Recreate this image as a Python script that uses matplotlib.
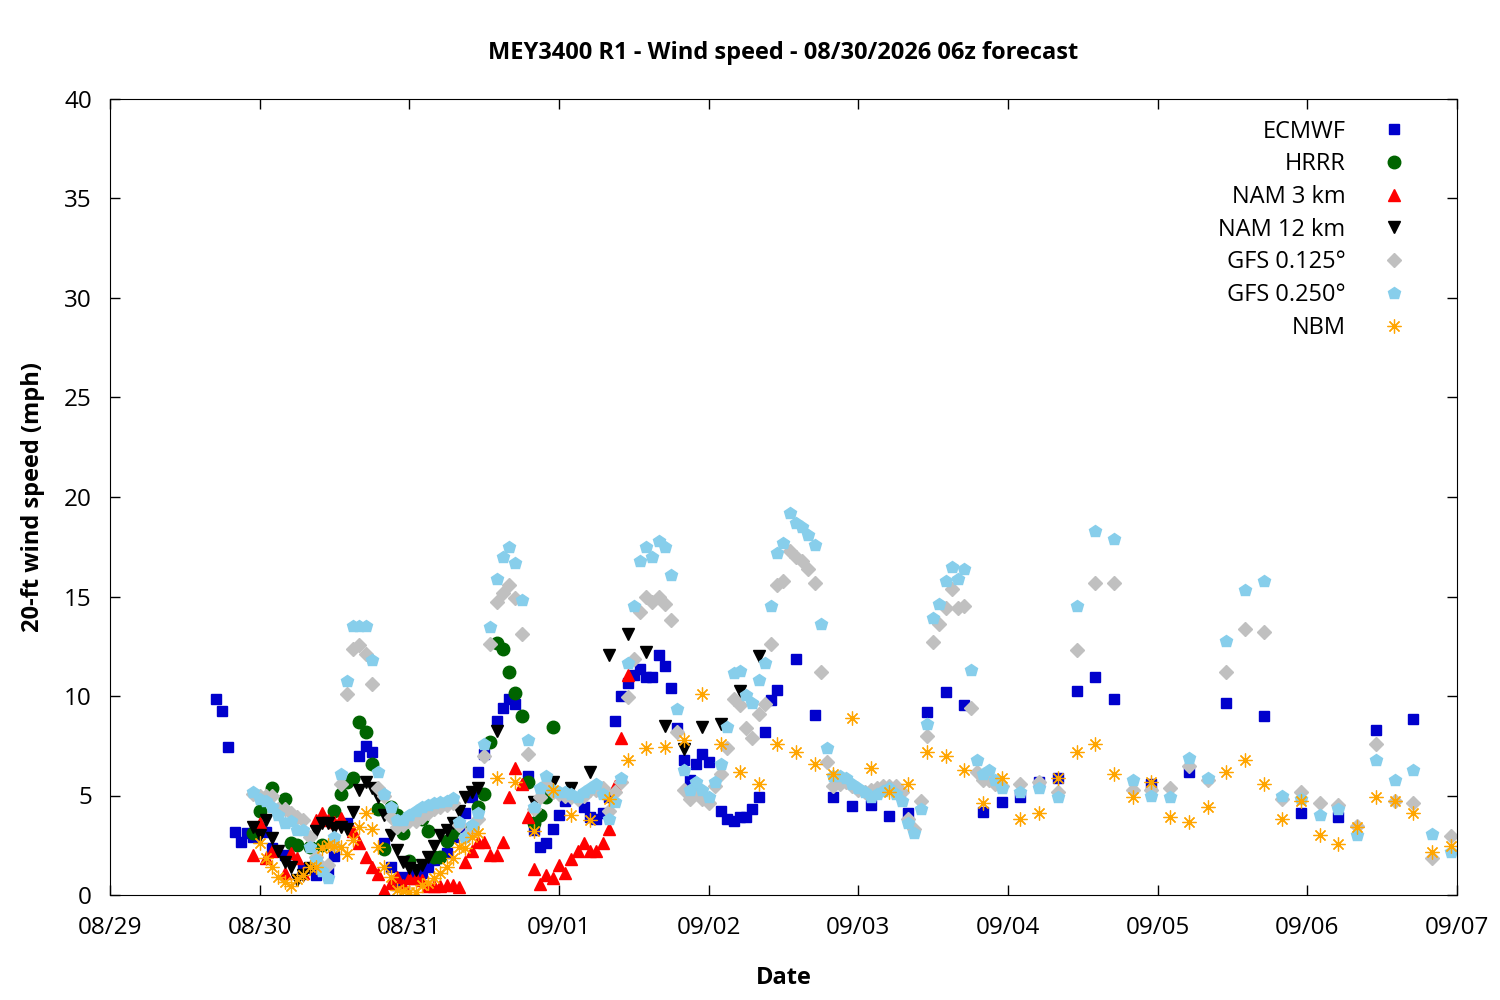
import pandas as pd
import matplotlib
matplotlib.use("Agg")
import matplotlib.pyplot as plt
import matplotlib.dates as mdates

plt.rcParams['font.family'] = ['Open Sans', 'DejaVu Sans']

# hours since 08/29/2026 00z, wind speed in mph
base = pd.Timestamp("2026-08-29 00:00")

ecmwf_h = [17, 18, 19, 20, 21, 22, 23, 24, 25, 26, 28, 31, 33, 35, 36, 38, 40, 41, 42,
           44, 45, 46, 47, 49, 50, 51, 52, 54, 55, 56, 57, 58, 59, 60, 62, 63, 64, 65,
           67, 68, 69, 70, 71, 72, 73, 76, 77, 78, 79, 80, 81, 82, 83, 84, 85, 86, 87,
           88, 89, 90, 91, 92, 93, 94, 95, 96, 98, 99, 100, 101, 102, 103, 104, 105,
           106, 107, 110, 113, 116, 119, 122, 125, 128, 131, 134, 137, 140, 143, 146,
           149, 152, 155, 158, 161, 167, 173, 179, 185, 191, 197, 203, 209]
ecmwf_mph = [9.85, 9.25, 7.45, 3.15, 2.65, 3.1, 2.9, 3.3, 3.17, 2.36, 2.0, 1.36, 1.0, 1.16,
             1.96, 3.6, 7.0, 7.5, 7.2, 2.6, 1.4, 0.5, 0.9, 1.0, 1.1, 1.4, 1.76, 2.1, 2.9,
             3.4, 4.1, 4.9, 6.2, 7.1, 8.75, 9.4, 9.85, 9.6, 6.0, 3.27, 2.4, 2.6, 3.3, 4.0,
             4.7, 4.4, 3.9, 3.8, 4.1, 4.9, 8.75, 10.0, 10.65, 11.05, 11.36, 10.95, 10.95,
             12.05, 11.5, 10.4, 8.4, 6.8, 5.8, 6.6, 7.1, 6.7, 4.2, 3.8, 3.7, 3.9, 3.9, 4.3,
             4.9, 8.2, 9.8, 10.3, 11.85, 9.05, 4.9, 4.47, 4.5, 3.97, 4.1, 9.2, 10.2, 9.55,
             4.17, 4.67, 4.9, 5.7, 5.9, 10.25, 10.95, 9.85, 5.6, 6.2, 9.65, 9.0, 4.1, 3.9,
             8.3, 8.85]

hrrr_h = [23, 24, 26, 28, 29, 30, 32, 34, 36, 37, 38, 39, 40, 41, 42, 43, 44, 45, 46, 47,
          48, 50, 51, 52, 53, 54, 55, 58, 59, 60, 61, 62, 63, 64, 65, 66, 67, 68, 69, 70, 71]
hrrr_mph = [3.1, 4.2, 5.4, 4.8, 2.6, 2.5, 2.4, 2.5, 4.2, 5.1, 5.7, 5.9, 8.7, 8.2, 6.6, 4.3,
            2.3, 4.4, 4.0, 3.1, 1.7, 3.8, 3.2, 1.9, 1.9, 2.7, 3.1, 3.4, 4.4, 5.1, 7.7, 12.65,
            12.35, 11.2, 10.15, 9.0, 5.7, 3.6, 4.0, 4.9, 8.45]

nam3_h = [23, 24, 25, 26, 28, 29, 30, 31, 33, 34, 35, 36, 37, 39, 40, 41, 42, 43, 44, 45,
          46, 47, 48, 49, 50, 51, 52, 53, 54, 55, 56, 57, 58, 59, 60, 61, 62, 63, 64, 65,
          66, 67, 68, 69, 70, 71, 72, 73, 74, 75, 76, 77, 78, 79, 80, 81, 82, 83]
nam3_mph = [2.0, 3.6, 1.86, 2.2, 1.1, 2.1, 1.86, 1.1, 3.77, 4.1, 3.77, 3.67, 3.87, 3.2, 2.6,
            1.9, 1.4, 1.05, 0.25, 0.6, 0.9, 0.5, 0.85, 0.85, 0.75, 0.45, 0.45, 0.45, 0.5,
            0.5, 0.4, 1.66, 2.2, 2.66, 2.66, 2.0, 2.0, 2.66, 4.9, 6.4, 5.6, 3.9, 1.3, 0.55,
            1.0, 0.85, 1.5, 1.1, 1.8, 2.2, 2.6, 2.2, 2.2, 2.6, 3.3, 5.5, 7.9, 11.05]

nam12_h = [23, 24, 25, 26, 27, 28, 29, 30, 31, 32, 33, 34, 35, 36, 37, 38, 39, 40, 41, 42,
           43, 44, 45, 46, 47, 48, 49, 50, 51, 52, 53, 54, 55, 56, 57, 58, 59, 62, 68, 71,
           74, 77, 80, 83, 86, 89, 92, 95, 98, 101, 104]
nam12_mph = [3.4, 3.0, 3.77, 2.87, 2.2, 1.66, 1.4, 0.75, 1.0, 1.36, 3.2, 3.6, 3.6, 3.37,
             3.4, 3.3, 4.17, 5.3, 5.7, 5.4, 4.9, 4.0, 3.0, 2.26, 1.66, 1.36, 1.26, 1.5, 1.9,
             2.46, 3.0, 3.27, 3.6, 4.2, 4.9, 5.2, 5.4, 8.24, 4.67, 5.7, 5.4, 6.2, 12.05,
             13.1, 12.2, 8.5, 7.35, 8.45, 8.6, 10.25, 12.0]

# GFS is hourly up to h143, then 3-hourly
gfs_h = list(range(23, 144)) + list(range(146, 216, 3))
gfs125_mph = [5.1, 5.0, 4.95, 5.0, 4.3, 4.3, 4.1, 3.9, 3.77, 2.9, 1.9, 1.4, 1.5, 2.5, 5.6,
              10.1, 12.35, 12.55, 12.1, 10.6, 5.4, 5.0, 3.9, 3.4, 3.5, 3.7, 3.7, 3.9, 4.1,
              4.3, 4.4, 4.5, 4.6, 3.5, 2.9, 3.3, 3.8, 7.0, 12.6, 14.7, 15.2, 15.6, 14.9,
              13.1, 7.1, 4.3, 4.9, 5.6, 5.2, 5.1, 5.0, 4.9, 4.8, 5.0, 5.3, 5.3, 5.4, 4.2,
              5.2, 5.7, 9.95, 11.85, 14.2, 15.0, 14.7, 15.0, 14.6, 13.8, 8.2, 5.3, 4.8, 5.2,
              4.8, 4.6, 5.5, 6.1, 7.4, 9.85, 9.55, 8.4, 7.9, 9.1, 9.6, 12.6, 15.6, 15.8,
              17.3, 17.0, 16.8, 16.4, 15.7, 11.2, 6.7, 5.5, 5.6, 5.7, 5.5, 5.3, 5.2, 5.3,
              5.4, 5.5, 5.5, 5.5, 5.2, 3.8, 3.3, 4.7, 8.0, 12.7, 13.6, 14.4, 15.4, 14.4,
              14.5, 9.4, 6.2, 5.8, 5.8, 5.6, 5.5,
              5.6, 5.7, 5.2, 12.3, 15.7, 15.7, 5.3, 5.3, 5.4, 6.5, 5.8, 11.2, 13.35, 13.2,
              4.8, 5.2, 4.6, 4.5, 3.47, 7.6, 4.7, 4.6, 1.86, 2.97]
gfs250_mph = [5.2, 4.8, 4.7, 4.4, 4.0, 3.6, 3.7, 3.27, 3.27, 2.4, 1.76, 1.2, 0.85, 2.9, 6.1,
              10.75, 13.5, 13.5, 13.5, 11.8, 6.2, 5.1, 4.4, 3.77, 3.77, 4.0, 4.2, 4.4, 4.5,
              4.6, 4.65, 4.7, 4.85, 3.67, 2.9, 3.5, 4.1, 7.6, 13.45, 15.9, 17.0, 17.5, 16.7,
              14.8, 7.8, 4.4, 5.4, 6.0, 5.3, 5.2, 5.2, 5.1, 4.9, 5.2, 5.4, 5.6, 5.1, 3.8,
              4.67, 5.9, 11.65, 14.5, 16.8, 17.5, 17.0, 17.8, 17.5, 16.1, 9.35, 6.3, 5.3,
              5.7, 5.3, 4.9, 5.7, 6.6, 8.45, 11.15, 11.25, 10.05, 9.65, 10.8, 11.65, 14.5,
              17.2, 17.7, 19.2, 18.7, 18.5, 18.1, 17.6, 13.6, 7.4, 6.0, 6.0, 5.9, 5.6, 5.4,
              5.2, 4.9, 5.1, 5.25, 5.4, 5.1, 4.7, 3.6, 3.1, 4.3, 8.6, 13.9, 14.6, 15.8,
              16.5, 15.9, 16.4, 11.3, 6.8, 6.1, 6.3, 5.8, 5.4,
              5.2, 5.4, 4.9, 14.5, 18.3, 17.9, 5.8, 5.0, 4.9, 6.9, 5.9, 12.75, 15.35, 15.8,
              5.0, 4.8, 4.0, 4.3, 3.0, 6.8, 5.8, 6.3, 3.07, 2.16]

# NBM is hourly up to h59, then 3-hourly
nbm_h = list(range(24, 60)) + list(range(62, 216, 3))
nbm_mph = [2.6, 1.86, 1.4, 0.9, 0.65, 0.45, 0.8, 1.0, 1.4, 1.4, 2.36, 2.5, 2.46, 2.4, 2.06,
           2.76, 3.4, 4.1, 3.3, 2.4, 1.4, 0.9, 0.25, 0.2, 0.15, 0.15, 0.5, 0.6, 0.85, 1.1,
           1.4, 1.86, 2.4, 2.36, 2.9, 3.1,
           5.9, 5.7, 3.2, 5.3, 4.0, 3.77, 4.8, 6.8, 7.4, 7.45, 7.8, 10.1, 7.6, 6.2, 5.6,
           7.6, 7.2, 6.6, 6.1, 8.9, 6.4, 5.2, 5.6, 7.2, 7.0, 6.3, 4.6, 5.9, 3.8, 4.1, 5.9,
           7.2, 7.6, 6.1, 4.9, 5.7, 3.9, 3.65, 4.4, 6.2, 6.8, 5.6, 3.8, 4.7, 3.0, 2.55, 3.4,
           4.9, 4.7, 4.1, 2.16, 2.46]


def to_dates(hours):
    return base + pd.to_timedelta(hours, unit="h")


fig = plt.figure(figsize=(15, 10), dpi=100)
ax = fig.add_axes([0.0733, 0.105, 0.898, 0.796])

ax.plot(to_dates(ecmwf_h), ecmwf_mph, ls="none", marker="s", ms=7, color="#0000cc",
        mec="#0000cc", label="ECMWF")
ax.plot(to_dates(hrrr_h), hrrr_mph, ls="none", marker="o", ms=9, color="#006400",
        mec="#006400", label="HRRR")
ax.plot(to_dates(nam3_h), nam3_mph, ls="none", marker="^", ms=9, color="#ff0000",
        mec="#ff0000", label="NAM 3 km")
ax.plot(to_dates(nam12_h), nam12_mph, ls="none", marker="v", ms=9, color="black",
        mec="black", label="NAM 12 km")
ax.plot(to_dates(gfs_h), gfs125_mph, ls="none", marker="D", ms=7, color="#c0c0c0",
        mec="#c0c0c0", label="GFS 0.125°")
ax.plot(to_dates(gfs_h), gfs250_mph, ls="none", marker="p", ms=9, color="#87ceeb",
        mec="#87ceeb", label="GFS 0.250°")
ax.plot(to_dates(nbm_h), nbm_mph, ls="none", marker=(8, 2, 0), ms=10, color="#ffa500",
        mec="#ffa500", mew=0.9, label="NBM")

ax.set_xlim(base, base + pd.Timedelta(days=9))
ax.set_ylim(0, 40)
ax.set_yticks(range(0, 41, 5))
ax.xaxis.set_major_locator(mdates.DayLocator())
ax.xaxis.set_major_formatter(mdates.DateFormatter("%m/%d"))
ax.tick_params(direction="in", length=7, width=1, top=True, right=True,
               labelsize=17.5, pad=15)
ax.tick_params(axis="y", pad=13)

ax.set_title("MEY3400 R1 - Wind speed - 08/30/2026 06z forecast",
             fontsize=17, fontweight="bold", pad=29)
ax.set_xlabel("Date", fontsize=17, fontweight="bold", labelpad=19)
ax.set_ylabel("20-ft wind speed (mph)", fontsize=17, fontweight="bold", labelpad=14)

leg = ax.legend(loc="upper right", frameon=False, markerfirst=False, numpoints=1,
                fontsize=17, handlelength=1.5, handletextpad=1.3, labelspacing=0.37,
                borderaxespad=0.3, bbox_to_anchor=(0.9785, 0.995))

fig.savefig("out.png", dpi=100)
